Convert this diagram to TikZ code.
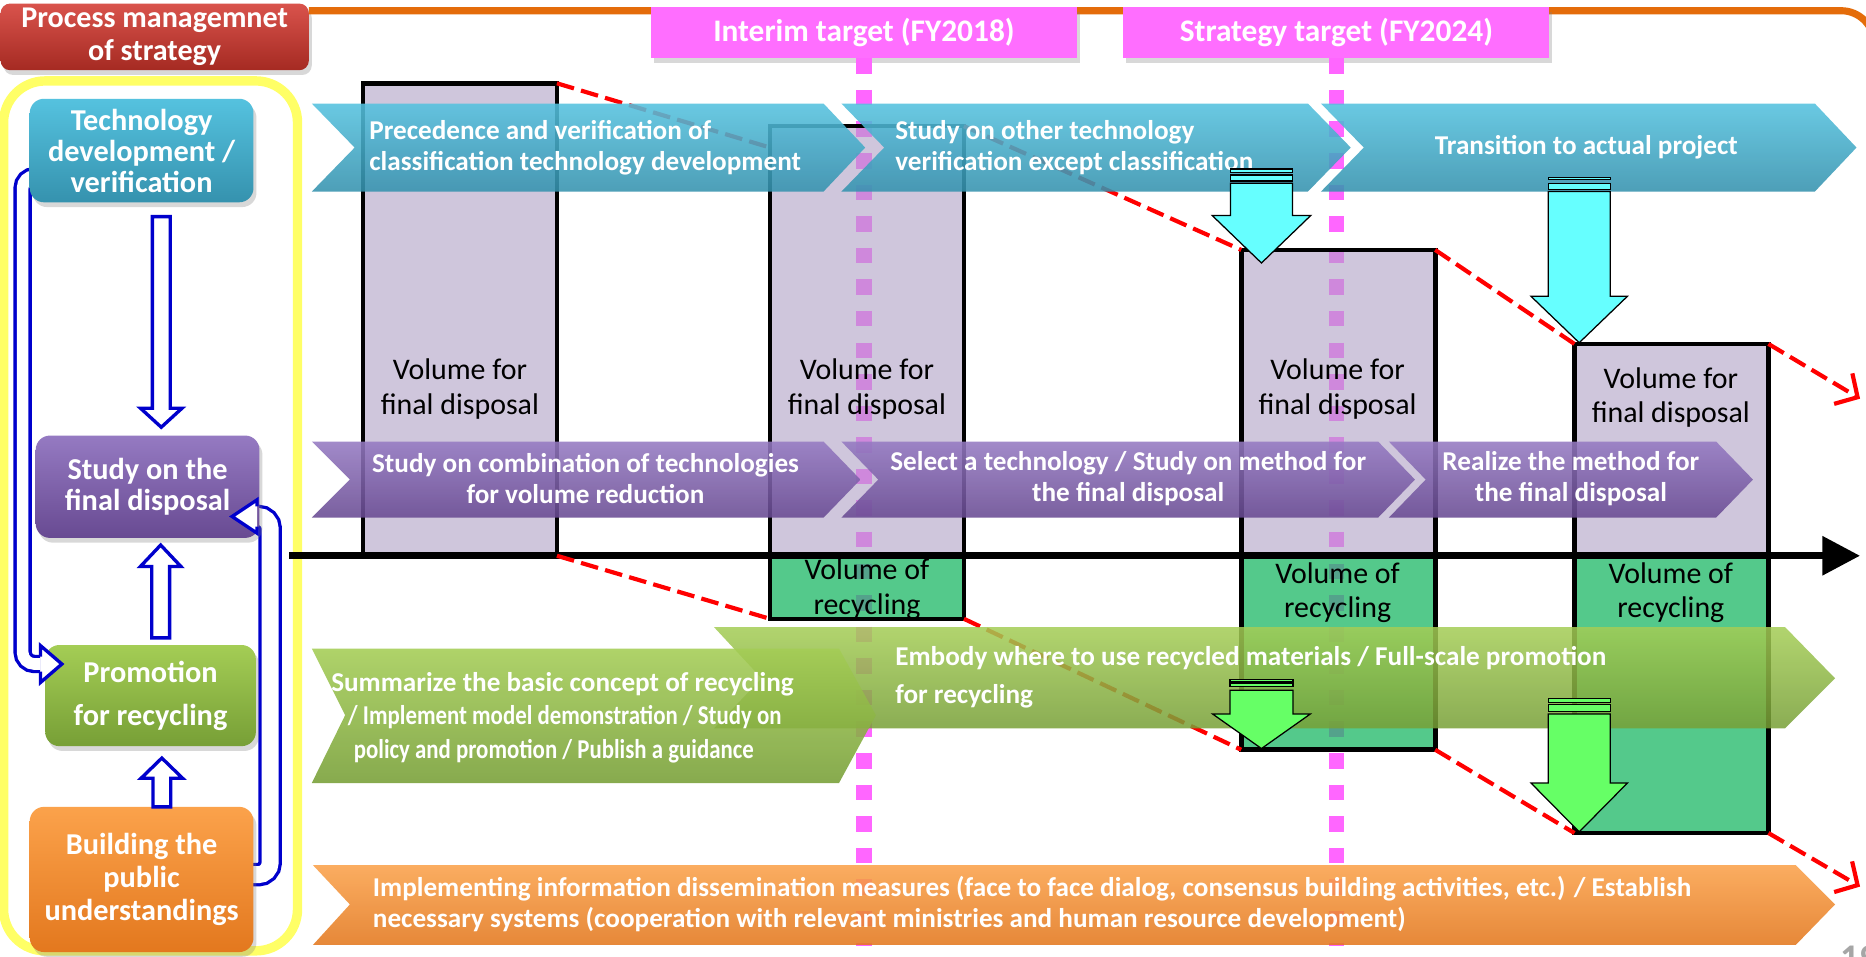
\documentclass[tikz,border=0pt]{standalone}
\usepackage{fontspec}
\setmainfont{Carlito}
\newfontfamily\narrowcarlito[FakeStretch=0.84]{Carlito}
\usetikzlibrary{positioning,arrows.meta,backgrounds,shadows}

\definecolor{frameorange}{HTML}{E46C0A}
\definecolor{panelyellow}{HTML}{FFFF66}
\definecolor{titletop}{HTML}{D9534C}
\definecolor{titlebot}{HTML}{A52A22}
\definecolor{pinkfill}{HTML}{FF6EFF}
\definecolor{pinkdash}{HTML}{FF66FF}
\definecolor{lavfill}{HTML}{AFA0C6}
\definecolor{recfill}{HTML}{1CB765}
\definecolor{tealtop}{HTML}{55C2DF}
\definecolor{tealbot}{HTML}{3592AE}
\definecolor{purptop}{HTML}{957AC2}
\definecolor{purpbot}{HTML}{684A92}
\definecolor{greentop}{HTML}{A4CD55}
\definecolor{greenbot}{HTML}{779F36}
\definecolor{orangetop}{HTML}{FBA24B}
\definecolor{orangebot}{HTML}{E3781E}
\definecolor{arrowblue}{HTML}{0000CC}
\definecolor{cyanarrow}{HTML}{66FFFF}
\definecolor{limearrow}{HTML}{66FF66}

\begin{document}
\begin{tikzpicture}[x=0.2mm, y=-0.2mm, >=latex,
    softshadow/.style={drop shadow={opacity=0.3, shadow xshift=0.5mm, shadow yshift=-0.8mm}},
    leftbox/.style={rounded corners=2.4mm, minimum width=37.6mm, minimum height=17.4mm, align=center, text=white, font=\fontsize{14.5}{14.8}\selectfont\bfseries, inner sep=0pt, outer sep=0pt, softshadow},
    volbox/.style={draw=black, line width=2.2pt, minimum width=32.6mm, anchor=north west, inner sep=0pt, outer sep=0pt},
    vollabel/.style={align=center, font=\fontsize{14.3}{16.5}\selectfont, inner sep=0pt},
    targetbox/.style={fill=pinkfill, minimum width=71.6mm, minimum height=8.6mm, text=white, font=\fontsize{15}{16}\selectfont\bfseries, inner sep=0pt, outer sep=0pt, softshadow},
    bandtext/.style={text=white, font=\fontsize{13}{14.8}\selectfont\bfseries, inner sep=0pt},
    band/.style={fill opacity=0.88},
    trendline/.style={red, line width=2pt, dash pattern=on 8.5pt off 3.5pt},
    milestone/.style={pinkdash, line width=7.4pt, dash pattern=on 7.4pt off 7.7pt},
    hollow/.style={draw=arrowblue, line width=1.6pt, fill=white},
    loopline/.style={draw=arrowblue, line width=1.6pt, double=white, rounded corners=2mm},
    droparrow/.style={draw=black, line width=0.6pt}]

    \begin{scope}[on background layer]
        \fill[white] (0,0) rectangle (1568,804);
    \end{scope}
    \useasboundingbox (0,0) rectangle (1568,804);

    % left column frame and title
    \draw[panelyellow, line width=4.5pt, rounded corners=7mm] (3,68) rectangle (250,799);
    \node[leftbox, minimum width=51.8mm, minimum height=11.2mm, rounded corners=1.6mm, top color=titletop, bottom color=titlebot, font=\fontsize{14.4}{15.4}\selectfont\bfseries] (title) at (130,31) {Process managemnet\\of strategy};
    \draw[frameorange, line width=3.4pt, rounded corners=5.6mm] (title.east |- 0,9) -- (1575,9) -- (1575,90);

    % targets and milestone lines
    \node[targetbox] (interim) at (726,27.5) {Interim target (FY2018)};
    \node[targetbox] (strategy) at (1123,27.5) {Strategy target (FY2024)};
    \draw[milestone] (interim.south) -- ++(0,746);
    \draw[milestone] (strategy.south) -- ++(0,746);

    % volume bars
    \node[volbox, fill=lavfill, fill opacity=0.6, minimum height=79.4mm] (b1) at (305,70) {};
    \node[volbox, fill=lavfill, fill opacity=0.6, minimum height=72.2mm] (b2) at (647,106) {};
    \node[volbox, fill=lavfill, fill opacity=0.6, minimum height=51.4mm] (b3) at (1043,210) {};
    \node[volbox, fill=lavfill, fill opacity=0.6, minimum height=35.6mm] (b4) at (1323,289) {};
    \node[volbox, fill=recfill, fill opacity=0.75, minimum height=10.6mm] (g2) at (647,467) {};
    \node[volbox, fill=recfill, fill opacity=0.75, minimum height=32.6mm] (g3) at (1043,467) {};
    \node[volbox, fill=recfill, fill opacity=0.75, minimum height=46.6mm] (g4) at (1323,467) {};

    \node[vollabel] (v1) at (386.5,327) {Volume for\\final disposal};
    \node[vollabel] (v2) at (728.5,327) {Volume for\\final disposal};
    \node[vollabel] (v3) at (1124,327) {Volume for\\final disposal};
    \node[vollabel] (v4) at (1404,334) {Volume for\\final disposal};
    \node[vollabel] (r2) at (728.5,495) {Volume of\\recycling};
    \node[vollabel] (r3) at (1124,498) {Volume of\\recycling};
    \node[vollabel] (r4) at (1404,498) {Volume of\\recycling};

    % time axis
    \coordinate (t0) at (243,467);
    \coordinate (t1) at (1563,467);
    \draw[line width=3.4pt, -{Triangle[length=18pt, width=18pt]}] (t0) -- (t1);

    % trend lines
    \coordinate (endtop) at (1563,335);
    \coordinate (endbot) at (1563,745);
    \draw[trendline] (b1.north east) -- ([yshift=-3.6mm]b2.north west);
    \draw[trendline] (b2.north east) -- (b3.north west);
    \draw[trendline] (b3.north east) -- (b4.north west);
    \draw[trendline, -{Straight Barb[length=8pt, width=17pt]}] (b4.north east) -- (endtop);
    \draw[trendline] (b1.south east) -- (g2.south west);
    \draw[trendline] (g2.south east) -- (g3.south west);
    \draw[trendline] (g3.south east) -- (g4.south west);
    \draw[trendline, -{Straight Barb[length=8pt, width=17pt]}] (g4.south east) -- (endbot);

    % technology bands
    \shade[band, top color=tealtop, bottom color=tealbot] (262,87) -- (692,87) -- (727,124) -- (692,161) -- (262,161) -- (298,124) -- cycle;
    \shade[band, top color=tealtop, bottom color=tealbot] (707,87) -- (1099,87) -- (1135,124) -- (1099,161) -- (707,161) -- (743,124) -- cycle;
    \shade[band, top color=tealtop, bottom color=tealbot] (1110,87) -- (1525,87) -- (1560,124) -- (1525,161) -- (1110,161) -- (1146,124) -- cycle;
    \node[bandtext, anchor=west, align=left] (tc1) at (310,124) {Precedence and verification of\\classification technology development};
    \node[bandtext, anchor=west, align=left] (tc2) at (752,124) {Study on other technology\\verification except classification};
    \node[bandtext] (tc3) at (1333,124) {Transition to actual project};

    % final disposal bands
    \shade[band, top color=purptop, bottom color=purpbot] (262,371) -- (692,371) -- (723,403) -- (692,435) -- (262,435) -- (294,403) -- cycle;
    \shade[band, top color=purptop, bottom color=purpbot] (707,371) -- (1158,371) -- (1189,403) -- (1158,435) -- (707,435) -- (738,403) -- cycle;
    \shade[band, top color=purptop, bottom color=purpbot] (1167,371) -- (1442,371) -- (1473,403) -- (1442,435) -- (1167,435) -- (1198,403) -- cycle;
    \node[bandtext, align=center] (pd1) at (492,402) {Study on combination of technologies\\for volume reduction};
    \node[bandtext, align=center] (pd2) at (948,402) {Select a technology / Study on method for\\the final disposal};
    \node[bandtext, align=center] (pd3) at (1320,402) {Realize the method for\\the final disposal};

    % recycling bands
    \shade[fill opacity=0.85, top color=greentop, bottom color=greenbot] (600,527) -- (1500,527) -- (1542,570) -- (1500,612) -- (600,612) -- (640,570) -- cycle;
    \shade[band, top color=greentop, bottom color=greenbot] (262,545) -- (705,545) -- (736,601) -- (705,658) -- (262,658) -- (290,601) -- cycle;
    \node[bandtext, anchor=west, align=left, font=\fontsize{13}{18.2}\selectfont\bfseries] (rc2) at (752,569) {Embody where to use recycled materials / Full-scale promotion\\for recycling};
    \node[bandtext, anchor=west, align=left, font=\fontsize{13}{16}\selectfont\bfseries] (rc1) at (278,603) {Summarize the basic concept of recycling\\\hspace*{8pt}\narrowcarlito / Implement model demonstration / Study on\\\hspace*{10.8pt}\narrowcarlito policy and promotion / Publish a guidance};

    % public understanding band
    \shade[band, top color=orangetop, bottom color=orangebot] (263,727) -- (1509,727) -- (1542,760) -- (1509,794) -- (263,794) -- (294,760) -- cycle;
    \node[bandtext, anchor=west, align=left] (pu1) at (313,760) {Implementing information dissemination measures (face to face dialog, consensus building activities, etc.) / Establish\\necessary systems (cooperation with relevant ministries and human resource development)};

    % striped arrows onto the bars
    \filldraw[droparrow, fill=cyanarrow] ([xshift=3.4mm,yshift=-2.2mm]b3.north west) -- +(41.5,-40) -- +(26,-40) -- +(26,-67) -- +(-26,-67) -- +(-26,-40) -- +(-41.5,-40) -- cycle;
    \filldraw[droparrow, fill=cyanarrow] ([xshift=3.4mm,yshift=-2.2mm]b3.north west) +(-26,-74) rectangle +(26,-69);
    \filldraw[droparrow, fill=cyanarrow] ([xshift=3.4mm,yshift=-2.2mm]b3.north west) +(-26,-79) rectangle +(26,-76);
    \filldraw[droparrow, fill=cyanarrow] ([xshift=0.8mm,yshift=0.2mm]b4.north west) -- +(40.5,-39) -- +(26,-39) -- +(26,-127) -- +(-26,-127) -- +(-26,-39) -- +(-40.5,-39) -- cycle;
    \filldraw[droparrow, fill=cyanarrow] ([xshift=0.8mm,yshift=0.2mm]b4.north west) +(-26,-134) rectangle +(26,-129);
    \filldraw[droparrow, fill=cyanarrow] ([xshift=0.8mm,yshift=0.2mm]b4.north west) +(-26,-139) rectangle +(26,-137);
    \filldraw[droparrow, fill=limearrow] ([xshift=3.4mm,yshift=0.2mm]g3.south west) -- +(41,-29) -- +(26.5,-29) -- +(26.5,-49) -- +(-26.5,-49) -- +(-26.5,-29) -- +(-41,-29) -- cycle;
    \filldraw[droparrow, fill=limearrow] ([xshift=3.4mm,yshift=0.2mm]g3.south west) +(-26.5,-55) rectangle +(26.5,-52);
    \filldraw[droparrow, fill=limearrow] ([xshift=3.4mm,yshift=0.2mm]g3.south west) +(-26.5,-58) rectangle +(26.5,-56);
    \filldraw[droparrow, fill=limearrow] ([xshift=0.8mm,yshift=0.2mm]g4.south west) -- +(40.5,-41) -- +(26,-41) -- +(26,-99) -- +(-26,-99) -- +(-26,-41) -- +(-40.5,-41) -- cycle;
    \filldraw[droparrow, fill=limearrow] ([xshift=0.8mm,yshift=0.2mm]g4.south west) +(-26,-107) rectangle +(26,-101);
    \filldraw[droparrow, fill=limearrow] ([xshift=0.8mm,yshift=0.2mm]g4.south west) +(-26,-112) rectangle +(26,-109);

    % left column boxes
    \node[leftbox, top color=tealtop, bottom color=tealbot] (tech) at (119,126.5) {Technology\\development /\\verification};
    \node[leftbox, minimum height=17.2mm, top color=purptop, bottom color=purpbot] (study) at (124,409) {Study on the\\final disposal};
    \node[leftbox, minimum width=35.4mm, minimum height=17mm, top color=greentop, bottom color=greenbot, font=\fontsize{14.5}{20.5}\selectfont\bfseries] (promo) at (126.5,584.5) {Promotion\\for recycling};
    \node[leftbox, minimum height=24.4mm, top color=orangetop, bottom color=orangebot, font=\fontsize{14.5}{16}\selectfont\bfseries] (build) at (119,739) {Building the\\public\\understandings};

    % feedback loops, kept behind the boxes
    \begin{scope}[on background layer]
        \draw[loopline, double distance=1.96mm] ([xshift=2mm,yshift=-4.3mm]tech.west) -- ++(-16,0) |- ([xshift=-0.8mm,yshift=5.3mm]promo.west);
        \draw[loopline, double distance=2.84mm] ([xshift=-2mm,yshift=0.8mm]build.east) -- ++(24,0) |- ([xshift=-0.4mm,yshift=-5mm]study.east);
    \end{scope}
    \filldraw[hollow] ([xshift=2.8mm,yshift=5.3mm]promo.west) +(-18,-6.3) -- +(-18,-15.5) -- +(0,0) -- +(-18,15.5) -- +(-18,6.3);
    \filldraw[hollow] ([xshift=-4.6mm,yshift=-5mm]study.east) +(21,-8.5) -- +(21,-14) -- +(0,0) -- +(21,14) -- +(21,8.5);

    % block arrows between the boxes
    \filldraw[hollow] ([xshift=2.3mm,yshift=1.4mm]study.north) -- +(17.5,-16) -- +(7.5,-16) -- +(7.5,-177) -- +(-7.5,-177) -- +(-7.5,-16) -- +(-17.5,-16) -- cycle;
    \filldraw[hollow] ([xshift=2.2mm,yshift=-1.2mm]study.south) -- +(17,18) -- +(7.5,18) -- +(7.5,78) -- +(-7.5,78) -- +(-7.5,18) -- +(-17,18) -- cycle;
    \filldraw[hollow] ([xshift=1.9mm,yshift=-2mm]promo.south) -- +(17.5,17) -- +(7.5,17) -- +(7.5,41) -- +(-7.5,41) -- +(-7.5,17) -- +(-17.5,17) -- cycle;

    \node[anchor=north west, inner sep=0pt, text=gray!70, font=\fontsize{18}{18}\selectfont\bfseries] (page) at (1546,794) {19};
\end{tikzpicture}
\end{document}
